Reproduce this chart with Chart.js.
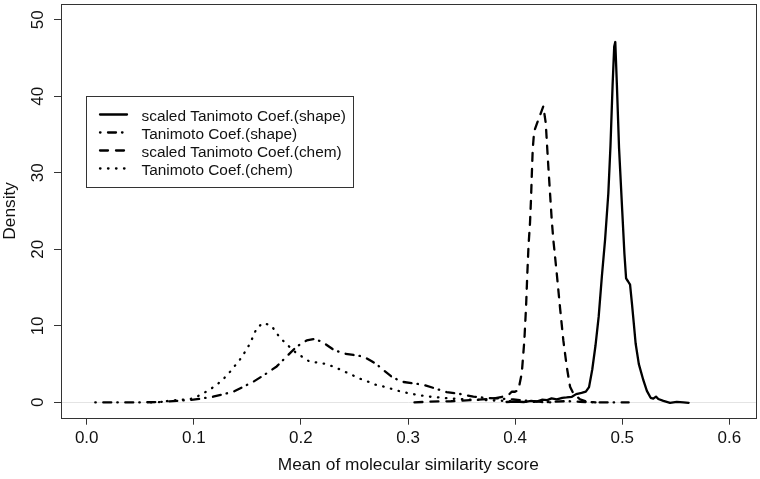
<!DOCTYPE html>
<html>
<head>
<meta charset="utf-8">
<script src="https://cdn.jsdelivr.net/npm/chart.js@4.4.0/dist/chart.umd.min.js"></script>
<style>
  html, body { margin: 0; padding: 0; background: #fff; }
  #wrap { width: 760px; height: 479px; }
</style>
</head>
<body>
<div id="wrap"><canvas id="density" width="760" height="479"></canvas></div>
<script>
// legend names, in legend order
const seriesNames = ['scaled Tanimoto Coef.(shape)', 'Tanimoto Coef.(shape)', 'scaled Tanimoto Coef.(chem)', 'Tanimoto Coef.(chem)'];

// density curves
const shapeScaledX = [0.392, 0.400, 0.408, 0.415, 0.420, 0.425, 0.430, 0.434, 0.439, 0.444, 0.448, 0.453, 0.457, 0.462, 0.466, 0.469, 0.472, 0.475, 0.478, 0.481, 0.484, 0.487, 0.489, 0.491, 0.4925, 0.4935, 0.495, 0.497, 0.5, 0.502, 0.5036, 0.5055, 0.5073, 0.509, 0.511, 0.5125, 0.5155, 0.5197, 0.523, 0.5265, 0.529, 0.5315, 0.5337, 0.5384, 0.5446, 0.5509, 0.5571, 0.562];
const shapeScaledY = [0.05, 0.1, 0.05, 0.2, 0.1, 0.35, 0.3, 0.52, 0.39, 0.6, 0.65, 0.73, 1.08, 1.25, 1.4, 2.0, 4.3, 7.4, 11.2, 16.5, 21.3, 27.3, 33.5, 41.5, 46.5, 47.1, 41.5, 33.3, 25, 19.5, 16.2, 15.8, 15.4, 13, 10, 7.7, 5.0, 2.9, 1.5, 0.6, 0.5, 0.75, 0.45, 0.2, -0.05, 0.08, 0, -0.05];

const shapeX = [0.008, 0.02, 0.035, 0.05, 0.065, 0.075, 0.084, 0.0995, 0.118, 0.137, 0.1556, 0.168, 0.1774, 0.1867, 0.196, 0.2054, 0.2132, 0.221, 0.2303, 0.2396, 0.249, 0.2583, 0.2645, 0.2706, 0.2754, 0.2848, 0.2941, 0.305, 0.3143, 0.3252, 0.336, 0.3486, 0.361, 0.3735, 0.3859, 0.3983, 0.4108, 0.4295, 0.448, 0.4606, 0.476, 0.506];
const shapeY = [0, 0, 0, 0, 0.05, 0.1, 0.2, 0.35, 0.74, 1.4, 2.7, 3.8, 4.7, 6.0, 7.3, 8.1, 8.3, 7.8, 6.9, 6.4, 6.2, 6.0, 5.5, 5.0, 4.4, 3.35, 2.7, 2.5, 2.3, 1.83, 1.35, 1.1, 0.75, 0.58, 0.5, 0.38, 0.21, 0.04, 0.17, 0.08, 0, 0];

const chemScaledX = [0.306, 0.32, 0.34, 0.36, 0.38, 0.39, 0.3937, 0.3968, 0.3999, 0.403, 0.4062, 0.4086, 0.4102, 0.4114, 0.4125, 0.4139, 0.4148, 0.4156, 0.4164, 0.4177, 0.4205, 0.4232, 0.4263, 0.4286, 0.4295, 0.431, 0.4326, 0.4342, 0.4357, 0.4389, 0.4419, 0.445, 0.4482, 0.4513, 0.4544, 0.4606, 0.4669, 0.475];
const chemScaledY = [0, 0.1, 0.15, 0.3, 0.5, 0.8, 0.95, 1.39, 1.39, 1.61, 3.8, 8.1, 12.5, 16.9, 20.5, 23.5, 26.5, 29.9, 33, 35.4, 36.5, 37.5, 38.7, 36.5, 34.3, 30.8, 27.3, 23.8, 21.2, 16.8, 12.4, 8.1, 4.65, 2.04, 1.17, 0.39, 0.08, 0];

const chemX = [0.06, 0.0684, 0.0747, 0.084, 0.0934, 0.0995, 0.1074, 0.1151, 0.1214, 0.1276, 0.1338, 0.1431, 0.1478, 0.1525, 0.1587, 0.1649, 0.1727, 0.1774, 0.183, 0.1882, 0.1945, 0.2008, 0.2085, 0.2162, 0.2241, 0.2318, 0.2396, 0.2474, 0.2552, 0.263, 0.2708, 0.2785, 0.2863, 0.2941, 0.3019, 0.3096, 0.32, 0.34, 0.36, 0.38, 0.40, 0.42, 0.435];
const chemY = [0, 0.04, 0.17, 0.3, 0.39, 0.52, 1.08, 1.7, 2.3, 3.05, 4.0, 5.6, 6.6, 7.7, 9.7, 10.4, 10.0, 9.0, 8.1, 7.4, 6.6, 6.0, 5.3, 5.2, 5.0, 4.6, 4.1, 3.6, 3.1, 2.7, 2.26, 2.04, 1.7, 1.39, 1.17, 0.95, 0.75, 0.5, 0.35, 0.25, 0.15, 0.05, 0];

const xTicks = [0, 0.1, 0.2, 0.3, 0.4, 0.5, 0.6];
const yTicks = [0, 10, 20, 30, 40, 50];

const FONT = "'Liberation Sans', Arial, Helvetica, sans-serif";
Chart.defaults.font.family = FONT;
Chart.defaults.color = '#111';

const toPoints = (xs, ys) => xs.map((x, i) => ({ x: x, y: ys[i] }));

// R line types at lwd 2: solid, dotdash, dashed, dotted
const dashes = [[], [0.5, 7.5, 8, 6], [8, 8], [0.5, 7.5]];

// zero line, box, rotated y labels and the boxed legend, R style
const rPlot = {
    id: 'rPlot',
    beforeDatasetsDraw(chart) {
        const { ctx, chartArea: a, scales: { y } } = chart;
        const y0 = Math.round(y.getPixelForValue(0)) + 0.5;
        ctx.save();
        ctx.strokeStyle = '#e4e4e4';
        ctx.lineWidth = 1;
        ctx.beginPath();
        ctx.moveTo(a.left, y0);
        ctx.lineTo(a.right, y0);
        ctx.stroke();
        ctx.restore();
    },
    afterDatasetsDraw(chart) {
        const { ctx, chartArea: a, scales: { y } } = chart;
        ctx.save();
        ctx.strokeStyle = '#333';
        ctx.lineWidth = 1;
        ctx.strokeRect(Math.round(a.left) + 0.5, Math.round(a.top) + 0.5,
            Math.round(a.right - a.left), Math.round(a.bottom - a.top));

        ctx.fillStyle = '#111';
        ctx.font = '17px ' + FONT;
        ctx.textAlign = 'center';
        ctx.textBaseline = 'alphabetic';
        yTicks.forEach(v => {
            ctx.save();
            ctx.translate(42.5, y.getPixelForValue(v));
            ctx.rotate(-Math.PI / 2);
            ctx.fillText(String(v), 0, 0);
            ctx.restore();
        });

        // legend
        ctx.strokeStyle = '#333';
        ctx.strokeRect(86.5, 96.5, 267, 91);
        ctx.font = '15.4px ' + FONT;
        ctx.textAlign = 'left';
        chart.data.datasets.forEach((ds, i) => {
            const base = 120.5 + i * 18;
            ctx.save();
            ctx.strokeStyle = '#000';
            ctx.lineWidth = ds.borderWidth;
            ctx.lineCap = 'round';
            ctx.setLineDash(ds.borderDash);
            ctx.beginPath();
            ctx.moveTo(100, base - 6);
            ctx.lineTo(127, base - 6);
            ctx.stroke();
            ctx.restore();
            ctx.fillText(ds.label, 141.5, base);
        });
        ctx.restore();
    }
};

const ctx = document.getElementById('density').getContext('2d');
new Chart(ctx, {
    type: 'line',
    data: {
        datasets: [
            { label: seriesNames[0], data: toPoints(shapeScaledX, shapeScaledY) },
            { label: seriesNames[1], data: toPoints(shapeX, shapeY) },
            { label: seriesNames[2], data: toPoints(chemScaledX, chemScaledY) },
            { label: seriesNames[3], data: toPoints(chemX, chemY) }
        ].map((ds, i) => Object.assign(ds, {
            borderColor: '#000',
            borderWidth: 2.3,
            borderDash: dashes[i],
            borderCapStyle: 'round',
            borderJoinStyle: 'round',
            pointRadius: 0,
            tension: 0,
            fill: false
        }))
    },
    options: {
        responsive: false,
        animation: false,
        layout: { padding: { left: 0, top: 4, right: 4.3, bottom: 0 } },
        plugins: {
            legend: { display: false },
            tooltip: { enabled: false }
        },
        scales: {
            x: {
                type: 'linear',
                bounds: 'data',
                min: -0.024,
                max: 0.6246,
                afterBuildTicks: s => { s.ticks = xTicks.map(v => ({ value: v })); },
                afterFit: s => { s.height = 61.3; },
                grid: { drawOnChartArea: false, drawTicks: true, tickLength: 7, color: '#333' },
                border: { display: false },
                ticks: {
                    font: { size: 17 },
                    padding: 3,
                    maxRotation: 0,
                    autoSkip: false,
                    callback: v => v.toFixed(1)
                },
                title: {
                    display: true,
                    text: 'Mean of molecular similarity score',
                    font: { size: 17.3 },
                    padding: { top: 0, bottom: 3 }
                }
            },
            y: {
                type: 'linear',
                bounds: 'data',
                min: -2.0,
                max: 52.07,
                afterBuildTicks: s => { s.ticks = yTicks.map(v => ({ value: v })); },
                afterFit: s => { s.width = 61; },
                grid: { drawOnChartArea: false, drawTicks: true, tickLength: 7, color: '#333' },
                border: { display: false },
                ticks: { display: false },
                title: {
                    display: true,
                    text: 'Density',
                    font: { size: 17.3 },
                    padding: { top: 0, bottom: 0 }
                }
            }
        }
    },
    plugins: [rPlot]
});
</script>
</body>
</html>
